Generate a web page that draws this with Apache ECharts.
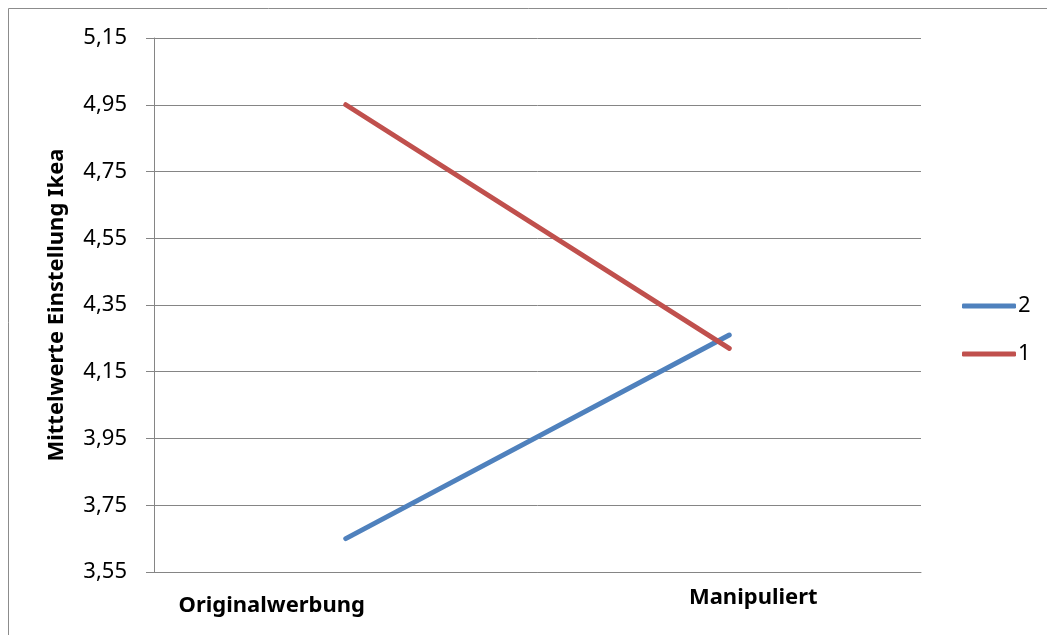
<!DOCTYPE html>
<html>
<head>
<meta charset="utf-8">
<script src="https://cdn.jsdelivr.net/npm/echarts@6/dist/echarts.min.js"></script>
<style>
  html, body { margin: 0; padding: 0; background: #fff; }
  #chart { width: 1047px; height: 635px; }
</style>
</head>
<body>
<div id="chart"></div>
<script>
// Mean attitude towards Ikea per ad version, one line per group
const categories = ['Originalwerbung', 'Manipuliert'];
const group2 = [3.65, 4.26];
const group1 = [4.95, 4.22];
const yMin = 3.55;
const yMax = 5.15;
const yStep = 0.2;

const FONT = '"Noto Sans", "DejaVu Sans", sans-serif';
const GRID = '#858585';

const chart = echarts.init(document.getElementById('chart'), null, { renderer: 'canvas' });

chart.setOption({
  backgroundColor: '#fff',
  animation: false,
  grid: { left: 154, right: 126, top: 38, bottom: 63, containLabel: false },
  legend: {
    orient: 'vertical',
    left: 957,
    top: 289,
    itemGap: 24,
    itemWidth: 54,
    itemHeight: 5,
    icon: 'roundRect',
    data: ['2', '1'],
    textStyle: { fontFamily: FONT, fontSize: 22, color: '#000', lineHeight: 24, padding: [0, 0, 0, -3] }
  },
  xAxis: {
    type: 'category',
    data: categories,
    boundaryGap: true,
    axisLine: { show: true, lineStyle: { color: GRID, width: 1 } },
    axisTick: { show: false },
    axisLabel: {
      interval: 0,
      margin: 15,
      formatter: function (v) {
        return v === 'Originalwerbung' ? '{a|' + v + '}' : '{b|' + v + '}';
      },
      rich: {
        a: { fontFamily: FONT, fontSize: 22, fontWeight: 'bold', color: '#000', padding: [8, 148, 0, 0] },
        b: { fontFamily: FONT, fontSize: 22, fontWeight: 'bold', color: '#000', padding: [0, 0, 0, 48] }
      }
    },
    splitLine: { show: false }
  },
  yAxis: {
    type: 'value',
    min: yMin,
    max: yMax,
    interval: yStep,
    name: 'Mittelwerte Einstellung Ikea',
    nameLocation: 'middle',
    nameRotate: 90,
    nameGap: 86,
    nameTextStyle: { fontFamily: FONT, fontSize: 22, fontWeight: 'bold', color: '#000' },
    axisLine: { show: true, lineStyle: { color: GRID, width: 1 } },
    axisTick: { show: true, length: 8, lineStyle: { color: GRID, width: 1 } },
    axisLabel: {
      margin: 27,
      fontFamily: FONT,
      fontSize: 22,
      color: '#000',
      formatter: function (v) { return v.toFixed(2).replace('.', ','); }
    },
    splitLine: { show: true, lineStyle: { color: GRID, width: 1 } }
  },
  series: [
    {
      name: '2',
      type: 'line',
      data: group2,
      symbol: 'none',
      color: '#4F81BD',
      lineStyle: { width: 5, cap: 'round', color: '#4F81BD' }
    },
    {
      name: '1',
      type: 'line',
      data: group1,
      symbol: 'none',
      color: '#C0504D',
      lineStyle: { width: 5, cap: 'round', color: '#C0504D' }
    }
  ],
  graphic: [
    {
      type: 'rect',
      silent: true,
      shape: { x: 8.5, y: 8.5, width: 2000, height: 2000 },
      style: { fill: 'none', stroke: '#8c8c8c', lineWidth: 1 }
    }
  ]
});
</script>
</body>
</html>
